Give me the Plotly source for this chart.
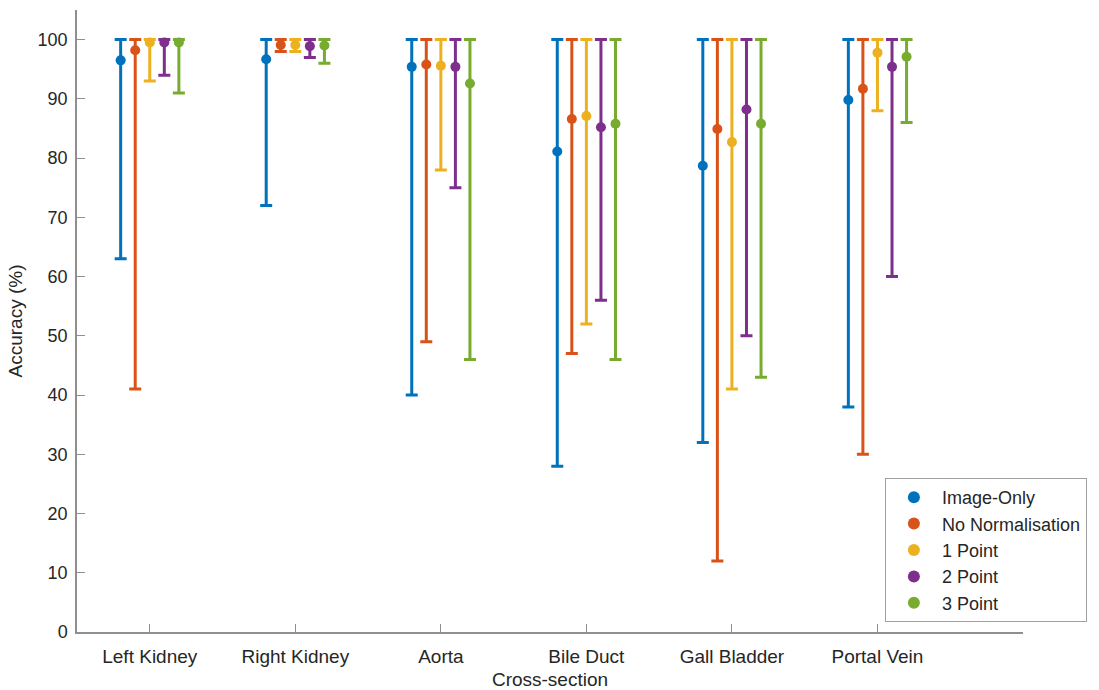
import plotly.graph_objects as go

# Cross-section categories on the x axis
categories = ["Left Kidney", "Right Kidney", "Aorta", "Bile Duct", "Gall Bladder", "Portal Vein"]

# Method names (legend entries)
methods = ["Image-Only", "No Normalisation", "1 Point", "2 Point", "3 Point"]

# Mean accuracy (%) per method, one value per cross-section
mean_image_only = [96.5, 96.7, 95.4, 81.1, 78.7, 89.8]
mean_no_norm = [98.2, 99.1, 95.8, 86.6, 84.9, 91.7]
mean_1_point = [99.5, 99.1, 95.6, 87.1, 82.7, 97.8]
mean_2_point = [99.5, 98.9, 95.4, 85.2, 88.2, 95.4]
mean_3_point = [99.5, 99.0, 92.6, 85.8, 85.8, 97.1]

# Minimum accuracy (%) per method
min_image_only = [63, 72, 40, 28, 32, 38]
min_no_norm = [41, 98, 49, 47, 12, 30]
min_1_point = [93, 98, 78, 52, 41, 88]
min_2_point = [94, 97, 75, 56, 50, 60]
min_3_point = [91, 96, 46, 46, 43, 86]

# Maximum accuracy (%) per method
max_image_only = [100, 100, 100, 100, 100, 100]
max_no_norm = [100, 100, 100, 100, 100, 100]
max_1_point = [100, 100, 100, 100, 100, 100]
max_2_point = [100, 100, 100, 100, 100, 100]
max_3_point = [100, 100, 100, 100, 100, 100]

means = [mean_image_only, mean_no_norm, mean_1_point, mean_2_point, mean_3_point]
mins = [min_image_only, min_no_norm, min_1_point, min_2_point, min_3_point]
maxs = [max_image_only, max_no_norm, max_1_point, max_2_point, max_3_point]

colors = ["#0072BD", "#D95319", "#EDB120", "#7E2F8E", "#77AC30"]

FONT = "Liberation Sans, Arial, sans-serif"
TEXT = "#262626"
AXIS = "#8f8f8f"

fig = go.Figure()
group_offset = 0.1
for j, name in enumerate(methods):
    xs = [i + 1 + (j - 2) * group_offset for i in range(len(categories))]
    m = means[j]
    fig.add_trace(go.Scatter(
        x=xs,
        y=m,
        mode="markers",
        name=name,
        marker=dict(color=colors[j], size=10),
        error_y=dict(
            type="data",
            symmetric=False,
            array=[hi - v for hi, v in zip(maxs[j], m)],
            arrayminus=[v - lo for lo, v in zip(mins[j], m)],
            color=colors[j],
            thickness=3,
            width=6,
        ),
    ))

fig.update_layout(
    width=1099,
    height=690,
    paper_bgcolor="white",
    plot_bgcolor="white",
    margin=dict(l=77, r=76, t=10, b=58, autoexpand=False),
    font=dict(family=FONT, size=18, color=TEXT),
    showlegend=True,
    legend=dict(
        x=0.854, y=0.2476, xanchor="left", yanchor="top",
        bgcolor="white", bordercolor="#a0a0a0", borderwidth=1,
        font=dict(family=FONT, size=18, color=TEXT),
        itemsizing="constant",
        itemwidth=46,
        tracegroupgap=0,
    ),
    xaxis=dict(
        range=[0.5, 7],
        tickmode="array",
        tickvals=list(range(1, len(categories) + 1)),
        ticktext=categories,
        ticks="inside",
        ticklen=8,
        tickcolor=AXIS,
        showline=True,
        linecolor=AXIS,
        linewidth=1.5,
        showgrid=False,
        zeroline=False,
        automargin=False,
        ticklabelstandoff=6,
        tickfont=dict(family=FONT, size=19, color=TEXT),
        title=dict(text="Cross-section", standoff=10,
                   font=dict(family=FONT, size=19, color=TEXT)),
    ),
    yaxis=dict(
        range=[0, 105],
        tickmode="array",
        tickvals=list(range(0, 101, 10)),
        ticks="inside",
        ticklen=8,
        tickcolor=AXIS,
        showline=True,
        linecolor=AXIS,
        linewidth=1.5,
        showgrid=False,
        zeroline=False,
        automargin=False,
        ticklabelstandoff=4,
        tickfont=dict(family=FONT, size=18, color=TEXT),
        title=dict(text="Accuracy (%)", standoff=10,
                   font=dict(family=FONT, size=19, color=TEXT)),
    ),
)

fig.write_html("out.html")
